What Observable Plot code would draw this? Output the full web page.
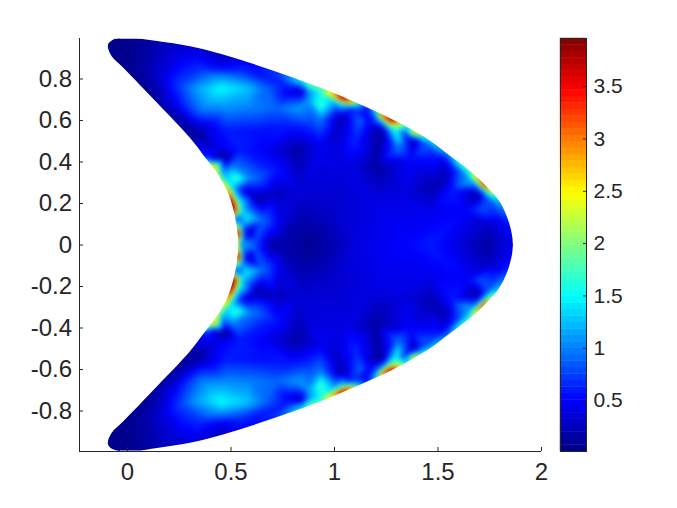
<!DOCTYPE html>
<html><head><meta charset="utf-8">
<script src="https://cdn.jsdelivr.net/npm/d3@7"></script>
<script src="https://cdn.jsdelivr.net/npm/@observablehq/plot@0.6"></script>
<style>
html,body{margin:0;padding:0;background:#fff;width:677px;height:508px;overflow:hidden}
#c{position:relative;width:677px;height:508px}
#c svg{position:absolute;left:0;top:0}
</style></head><body><div id="c"></div>
<script>
const xTicks = [0, 0.5, 1, 1.5, 2];
const yTicks = [-0.8, -0.6, -0.4, -0.2, 0, 0.2, 0.4, 0.6, 0.8];
const barTicks = [0.5, 1, 1.5, 2, 2.5, 3, 3.5];
const jetStops = ["#000080","#0000ff","#0080ff","#00ffff","#80ff80","#ffff00","#ff8000","#ff0000","#800000"];
const valueDomain = [0.013, 3.96];

// Sampled field, upper half (the picture is mirror-symmetric about y = 0): [x, y, value]
const hullPoints = [[-0.1,0.995,0.05],[0.5,0.995,0.3],[1,0.995,1],[1.87,0.995,0.4],[1.87,0,0.4],[-0.1,0.5,0.1],[-0.1,0,0.5]];
const outerEdge = [[-0.092,0.949,0.05],[-0.034,0.993,0.05],[0.039,0.993,0.07],[0.145,0.98,0.2],[0.304,0.955,0.35],[0.464,0.915,0.25],[0.594,0.875,0.5],[0.715,0.83,0.7],[0.836,0.79,1.4],[0.884,0.772,2.0],[0.942,0.752,1.8],[0.995,0.73,2.8],[1.043,0.71,3.95],[1.087,0.695,3.0],[1.125,0.676,1.3],[1.164,0.657,0.5],[1.203,0.638,1.3],[1.237,0.622,3.2],[1.275,0.604,3.96],[1.314,0.586,2.5],[1.352,0.566,1.3],[1.391,0.545,2.8],[1.43,0.522,1.6],[1.478,0.49,1.3],[1.546,0.438,1.0],[1.608,0.392,1.7],[1.657,0.352,1.8],[1.7,0.315,2.9],[1.729,0.287,3.5],[1.763,0.253,2.2],[1.797,0.21,1.3],[1.826,0.157,0.9],[1.855,0.075,0.5],[1.864,0,0.4]];
const subEdge = [[0.82,0.76,0.6],[0.872,0.74,1.0],[0.93,0.716,1.5],[0.983,0.699,1.3],[1.031,0.68,1.5],[1.075,0.662,0.9],[1.113,0.643,0.6],[1.152,0.623,0.45],[1.191,0.609,0.6],[1.225,0.592,1.0],[1.263,0.572,1.7],[1.302,0.554,1.6],[1.34,0.532,0.6],[1.379,0.512,0.5],[1.418,0.494,0.7],[1.46,0.465,0.7],[1.53,0.415,0.5],[1.59,0.365,0.7],[1.64,0.325,1.0],[1.68,0.295,1.1],[1.705,0.265,0.9],[1.735,0.225,0.8],[1.765,0.18,0.7],[1.795,0.13,0.5],[0.41,0.41,0.5],[0.46,0.345,1.1],[0.5,0.285,1.4],[0.52,0.24,1.5],[0.54,0.2,1.6],[0.55,0.16,1.4],[0.546,0.12,0.9],[0.552,0.088,1.1],[0.556,0.056,1.2],[0.558,0.022,1.0]];
const innerEdge = [[-0.019,0.853,0.06],[0.145,0.683,0.12],[0.304,0.514,0.15],[0.372,0.427,0.6],[0.415,0.374,2.8],[0.449,0.325,2.0],[0.488,0.249,3.0],[0.5,0.21,3.96],[0.514,0.167,3.96],[0.522,0.123,0.7],[0.531,0.089,1.8],[0.534,0.056,3.96],[0.537,0.022,2.5],[0.539,0,1.2]];
const interior = [[0.014,0.94,0.07],[0.111,0.915,0.18],[0.159,0.819,0.35],[0.256,0.891,0.45],[0.256,0.77,0.75],[0.063,0.843,0.13],[0.353,0.843,0.7],[0.449,0.86,0.45],[0.449,0.8,1.15],[0.328,0.756,1.1],[0.449,0.756,1.5],[0.57,0.756,1.3],[0.667,0.756,0.9],[0.546,0.833,0.7],[0.667,0.8,0.6],[0.763,0.77,0.6],[0.836,0.746,0.2],[0.778,0.732,0.45],[0.232,0.674,0.45],[0.353,0.65,0.95],[0.473,0.659,1.05],[0.594,0.659,1.0],[0.715,0.659,0.9],[0.821,0.659,1.1],[0.932,0.674,1.75],[0.874,0.698,1.1],[1.004,0.674,1.0],[0.932,0.602,0.95],[1.029,0.616,0.2],[1.077,0.65,0.6],[1.125,0.602,0.9],[1.164,0.59,0.5],[1.222,0.553,0.12],[1.004,0.544,0.3],[1.295,0.54,1.55],[1.304,0.519,1.5],[1.304,0.457,0.9],[1.246,0.56,0.6],[1.376,0.5,0.2],[1.342,0.5,0.8],[1.43,0.466,0.85],[1.488,0.432,0.6],[1.367,0.408,0.5],[1.198,0.384,0.15],[1.101,0.505,0.65],[1.077,0.384,0.4],[0.884,0.577,0.7],[0.787,0.577,0.6],[0.643,0.553,0.55],[0.473,0.553,0.6],[0.338,0.539,0.1],[0.28,0.585,0.18],[0.401,0.577,0.45],[0.473,0.418,0.1],[0.425,0.466,0.4],[0.546,0.456,0.6],[0.643,0.456,0.5],[0.821,0.456,0.15],[0.932,0.48,0.45],[1.029,0.432,0.4],[1.536,0.336,0.2],[1.478,0.278,0.2],[1.584,0.369,0.7],[1.633,0.297,1.1],[1.57,0.263,0.6],[1.691,0.244,0.15],[1.705,0.167,0.8],[1.778,0.142,0.6],[1.633,0.167,0.5],[1.739,0.007,0.15],[1.753,0.094,0.3],[1.802,0.046,0.35],[1.464,0,0.6],[1.464,0.142,0.45],[1.319,0.239,0.4],[1.174,0.215,0.4],[1.319,0,0.5],[1.126,0,0.4],[0.981,0.022,0.2],[0.884,0.022,0.1],[0.836,0.118,0.2],[0.981,0.167,0.3],[0.836,0.263,0.35],[0.715,0.36,0.6],[0.725,0.249,0.25],[0.628,0.225,0.15],[0.56,0.26,0.4],[0.531,0.322,1.7],[0.507,0.384,0.95],[0.594,0.322,1.0],[0.652,0.384,0.6],[0.58,0.128,1.45],[0.657,0.118,0.9],[0.739,0.128,0.4],[0.58,0.06,0.2],[0.57,0.007,1.1],[0.618,0.022,0.8],[0.691,0.007,0.2],[0.763,0.046,0.2],[0.546,0,1.0]];

// Outline of the region (upper half)
const outlineTop = [[-0.034,0.993],[0.039,0.993],[0.145,0.98],[0.304,0.955],[0.464,0.915],[0.628,0.864],[0.787,0.81],[0.932,0.756],[1.125,0.676],[1.319,0.584],[1.464,0.5],[1.56,0.428],[1.633,0.374],[1.705,0.312],[1.753,0.263],[1.787,0.225],[1.826,0.157],[1.85,0.089],[1.862,0.03],[1.865,0],[1.875,0]];
const outlineLeft = [[-0.034,0.995],[-0.068,0.987],[-0.087,0.972],[-0.093,0.955],[-0.074,0.907],[-0.019,0.853],[0.145,0.683],[0.304,0.514],[0.372,0.427],[0.435,0.345],[0.488,0.249],[0.522,0.133],[0.536,0.036],[0.537,0]];
const outlineEnd = [1.865];

const mirror = (rows) => rows.filter(r => r[1] > 0).map(r => { const m = r.slice(); m[1] = -r[1]; return m; });
const upper = [...hullPoints, ...outerEdge, ...subEdge, ...innerEdge, ...interior];
const field = [...upper, ...mirror(upper)];
const outlineBottom = outlineTop.map(r => [r[0], -r[1]]);
const outlineLeftAll = [...outlineLeft, ...mirror(outlineLeft).reverse()];

const ink = "#262626";
const fontFamily = "'Liberation Sans', Arial, sans-serif";
const colorScale = {type: "linear", domain: valueDomain, interpolate: d3.piecewise(d3.interpolateRgb, jetStops)};
const X0 = -0.232, X1 = 2, Y0 = -0.995, Y1 = 0.995;

const chart = Plot.plot({
  width: 677, height: 508, marginLeft: 79, marginRight: 136, marginTop: 38, marginBottom: 57,
  style: {fontFamily, fontSize: "24px", color: ink, background: "transparent"},
  x: {domain: [X0, X1], axis: null},
  y: {domain: [Y0, Y1], axis: null},
  color: colorScale,
  marks: [
    Plot.raster(field, {x: d => d[0], y: d => d[1], fill: d => d[2], interpolate: "barycentric", pixelSize: 1, blur: 2}),
    Plot.areaY(outlineTop, {x: d => d[0], y1: d => d[1], y2: Y1, fill: "white", curve: "monotone-x"}),
    Plot.areaY(outlineBottom, {x: d => d[0], y1: d => d[1], y2: Y0, fill: "white", curve: "monotone-x"}),
    Plot.areaX(outlineLeftAll, {y: d => d[1], x1: X0, x2: d => d[0], fill: "white", curve: "catmull-rom"}),
    Plot.rectY(outlineEnd, {x1: d => d, x2: X1, y1: Y0, y2: Y1, fill: "white", insetRight: -3, insetTop: -3, insetBottom: -3}),
    Plot.ruleX([X0], {stroke: ink}),
    Plot.ruleY([Y0], {stroke: ink}),
    Plot.axisX(xTicks, {anchor: "bottom", tickSize: -4, tickPadding: 15.5, stroke: ink, fill: ink, tickFormat: d => String(d), label: null}),
    Plot.axisY(yTicks, {anchor: "left", tickSize: -4, tickPadding: 11.5, stroke: ink, fill: ink, tickFormat: d => String(d), label: null})
  ]
});

const levels = d3.range(64);
const span = valueDomain[1] - valueDomain[0];
const bar = Plot.plot({
  width: 677, height: 508, marginLeft: 560, marginRight: 91, marginTop: 38, marginBottom: 57,
  style: {fontFamily, fontSize: "21px", color: ink, background: "transparent"},
  x: {domain: [0, 1], axis: null},
  y: {domain: valueDomain, axis: null},
  color: colorScale,
  marks: [
    Plot.rect(levels, {x1: 0, x2: 1, y1: i => valueDomain[0] + span * i / 64, y2: i => valueDomain[0] + span * (i + 1) / 64, fill: i => valueDomain[0] + span * (i + 0.5) / 64, inset: -0.2}),
    Plot.frame({stroke: ink}),
    Plot.axisY(barTicks, {anchor: "right", tickSize: -4, tickPadding: 11, stroke: ink, fill: ink, tickFormat: d => String(d), label: null})
  ]
});
document.getElementById("c").append(chart, bar);
</script></body></html>
